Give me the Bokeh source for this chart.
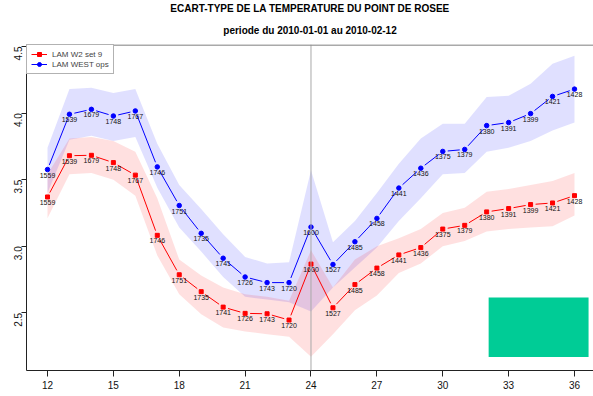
import math
from bokeh.plotting import figure
from bokeh.models import (ColumnDataSource, Span, Title, Legend, LegendItem,
                          FixedTicker, NumeralTickFormatter, Range1d)
from bokeh.core.properties import value
from bokeh.embed import file_html
from bokeh.resources import INLINE

# ---------------- data ----------------
title_1 = "ECART-TYPE DE LA TEMPERATURE DU POINT DE ROSEE"
title_2 = "periode du 2010-01-01 au 2010-02-12"

lead_time = list(range(12, 37))
counts = [1559, 1539, 1679, 1748, 1767, 1746, 1751, 1735, 1741, 1726, 1743, 1720,
          1600, 1527, 1485, 1458, 1441, 1436, 1375, 1379, 1380, 1391, 1399, 1421, 1428]

w2_name = "LAM W2 set 9"
w2_std = [3.370, 3.680, 3.683, 3.628, 3.534, 3.082, 2.786, 2.659, 2.543, 2.496, 2.493, 2.446,
          2.866, 2.538, 2.712, 2.836, 2.935, 2.990, 3.129, 3.157, 3.258, 3.283, 3.313, 3.325, 3.380]
w2_lo = [3.21, 3.54, 3.55, 3.50, 3.38, 2.93, 2.64, 2.49, 2.39, 2.36, 2.34, 2.32,
         2.17, 2.34, 2.52, 2.63, 2.80, 2.87, 3.00, 3.04, 3.11, 3.13, 3.14, 3.15, 3.23]
w2_hi = [3.54, 3.81, 3.82, 3.79, 3.71, 3.36, 2.90, 2.78, 2.69, 2.64, 2.62, 2.59,
         2.97, 2.69, 2.90, 3.00, 3.06, 3.13, 3.25, 3.29, 3.41, 3.43, 3.46, 3.49, 3.55]

west_name = "LAM WEST ops"
west_std = [3.576, 3.991, 4.028, 3.978, 4.016, 3.596, 3.306, 3.097, 2.910, 2.769, 2.727, 2.727,
            3.144, 2.863, 3.034, 3.209, 3.437, 3.586, 3.712, 3.727, 3.906, 3.929, 3.996, 4.125, 4.180]
west_lo = [3.40, 3.80, 3.83, 3.79, 3.82, 3.44, 3.14, 2.96, 2.77, 2.62, 2.60, 2.58,
           2.51, 2.69, 2.84, 2.99, 3.19, 3.36, 3.54, 3.55, 3.71, 3.74, 3.79, 3.87, 3.93]
west_hi = [3.74, 4.18, 4.19, 4.15, 4.18, 3.77, 3.46, 3.28, 3.09, 2.92, 2.87, 2.88,
           3.57, 3.03, 3.19, 3.40, 3.62, 3.81, 3.92, 3.92, 4.12, 4.13, 4.22, 4.37, 4.43]

x_ticks = [12, 15, 18, 21, 24, 27, 30, 33, 36]
y_ticks = [2.5, 3.0, 3.5, 4.0, 4.5]
split_x = 24
top_line_y = 4.511
logo_x = [32.09, 36.64]
logo_y = [2.168, 2.615]

# ---------------- layout ----------------
W, H = 593, 396
BL, BR, BT, BB = 26, 0, 42, 26
X0, X1 = 11.044, 36.865
Y0, Y1 = 2.067, 4.515
FONT = "Liberation Sans"
FW = W - BL - BR
FH = H - BT - BB

p = figure(width=W, height=H, output_backend="svg", toolbar_location=None,
           x_range=Range1d(X0, X1), y_range=Range1d(Y0, Y1),
           min_border_left=BL, min_border_right=BR, min_border_top=BT, min_border_bottom=BB)
p.outline_line_color = None
p.grid.visible = False
p.background_fill_color = "white"
p.border_fill_color = "white"

# titles (second added appears on top)
p.add_layout(Title(text=title_2, align="center", text_font=FONT, text_font_size="10px",
                   text_font_style="bold", text_color="black", text_line_height=0.6,
                   standoff=18, offset=0), "above")
p.add_layout(Title(text=title_1, align="center", text_font=FONT, text_font_size="10px",
                   text_font_style="bold", text_color="black", text_line_height=0.6,
                   standoff=0, offset=0), "above")

# bands
p.varea(x=lead_time, y1=west_lo, y2=west_hi, fill_color="#0000FF", fill_alpha=0.12)
p.varea(x=lead_time, y1=w2_lo, y2=w2_hi, fill_color="#FF0000", fill_alpha=0.12)

# reference lines
p.add_layout(Span(location=split_x, dimension="height", line_color="#A8A8A8", line_width=1))
p.add_layout(Span(location=top_line_y, dimension="width", line_color="#8C8C8C", line_width=1.5))

# green box
p.quad(left=[logo_x[0]], right=[logo_x[1]], bottom=[logo_y[0]], top=[logo_y[1]],
       fill_color="#00CC96", line_color=None)

# frame size in pixels, for R type="b" gaps around points
sx = FW / (X1 - X0)
sy = FH / (Y1 - Y0)
GAP = 5.0


def gapped(xs, ys):
    a0, b0, a1, b1 = [], [], [], []
    for i in range(len(xs) - 1):
        dx, dy = xs[i + 1] - xs[i], ys[i + 1] - ys[i]
        L = math.hypot(dx * sx, dy * sy)
        if L <= 2 * GAP:
            continue
        f = GAP / L
        a0.append(xs[i] + dx * f)
        b0.append(ys[i] + dy * f)
        a1.append(xs[i + 1] - dx * f)
        b1.append(ys[i + 1] - dy * f)
    return dict(x0=a0, y0=b0, x1=a1, y1=b1)


items = []
for name, ys, color, marker, msize in [(w2_name, w2_std, "#FF0000", "square", 4),
                                        (west_name, west_std, "#0000FF", "circle", 4.5)]:
    seg = p.segment(source=ColumnDataSource(gapped(lead_time, ys)), x0="x0", y0="y0",
                    x1="x1", y1="y1", line_color=color, line_width=1)
    sc = p.scatter(x=lead_time, y=ys, marker=marker, size=msize, fill_color=color,
                   line_color=color)
    p.text(x=lead_time, y=ys, text=[str(c) for c in counts], text_font=value(FONT),
           text_font_size="7px", text_align="center", text_baseline="top", y_offset=3,
           text_color="#111111")
    items.append(LegendItem(label=name, renderers=[seg, sc]))

legend = Legend(items=items, location="top_left", margin=0, padding=4, spacing=0,
                glyph_width=16, glyph_height=10, label_height=10, label_standoff=5,
                label_text_font=FONT, label_text_font_size="8px",
                border_line_color="#666666", border_line_width=1,
                background_fill_color="white", background_fill_alpha=1)
p.add_layout(legend, "center")

# axes
for ax in (p.xaxis[0], p.yaxis[0]):
    ax.axis_line_color = "#222222"
    ax.axis_line_width = 1
    ax.major_tick_line_color = "#222222"
    ax.major_tick_in = 0
    ax.minor_tick_line_color = None
    ax.major_label_text_font = FONT
    ax.major_label_text_font_size = "10px"
    ax.major_label_text_color = "#111111"
p.xaxis.ticker = FixedTicker(ticks=x_ticks)
p.yaxis.ticker = FixedTicker(ticks=y_ticks)
p.xaxis.major_tick_out = 6
p.xaxis.major_label_standoff = 4
p.yaxis.major_tick_out = 5
p.yaxis.major_label_standoff = 3
p.yaxis.formatter = NumeralTickFormatter(format="0.0")
p.yaxis.major_label_orientation = math.pi / 2

open("out.html", "w").write(file_html(p, INLINE))
